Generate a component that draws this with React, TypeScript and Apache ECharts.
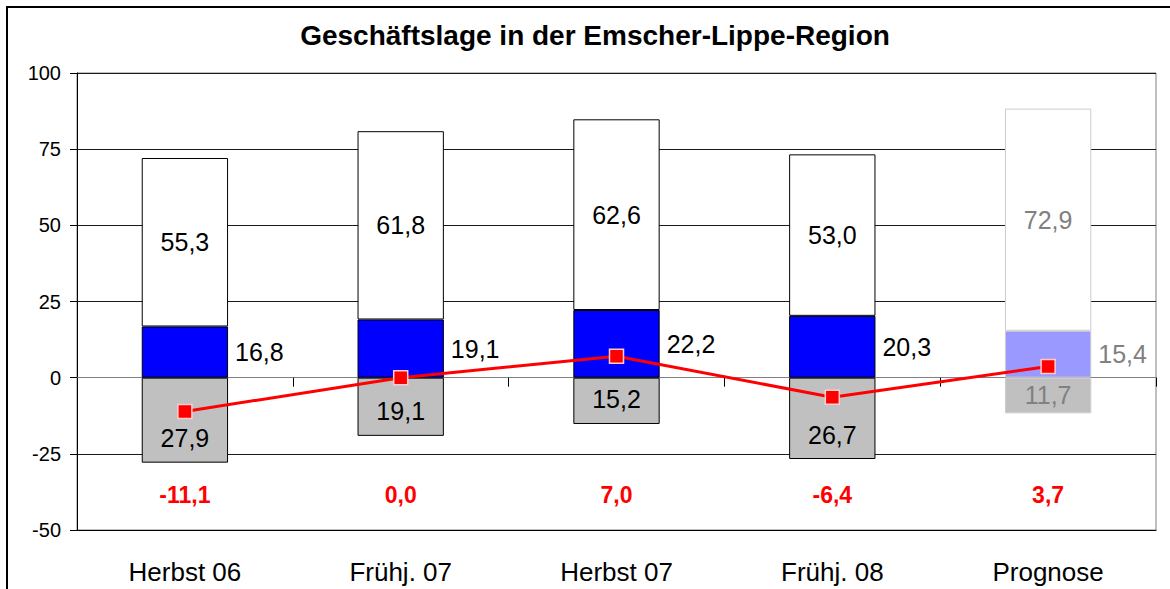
import React, { useEffect, useRef } from "react";
import * as echarts from "echarts";

const categories = ["Herbst 06", "Frühj. 07", "Herbst 07", "Frühj. 08", "Prognose"];
const schlecht = [27.9, 19.1, 15.2, 26.7, 11.7];
const gut = [16.8, 19.1, 22.2, 20.3, 15.4];
const befriedigend = [55.3, 61.8, 62.6, 53.0, 72.9];
const saldo = [-11.1, 0.0, 7.0, -6.4, 3.7];
const yTicks = { min: -50, max: 100, interval: 25 };
const title = "Geschäftslage in der Emscher-Lippe-Region";

const FONT = "Liberation Sans, Arial, sans-serif";
const fmt = (v: number) => Math.abs(v).toFixed(1).replace(".", ",");
const fmtSigned = (v: number) => v.toFixed(1).replace(".", ",");
const PROG = 4;

export default function App() {
  const ref = useRef<HTMLDivElement>(null);
  useEffect(() => {
    if (!ref.current) return;
    const chart = echarts.init(ref.current, undefined, { renderer: "svg" });

    const barItems = (vals: number[], sign: number, fill: string, progFill: string) =>
      vals.map((v, i) =>
        i === PROG
          ? {
              value: sign * v,
              itemStyle: { color: progFill, borderColor: "#cccccc", borderWidth: 1 },
              label: { color: "#808080" },
            }
          : { value: sign * v, itemStyle: { color: fill, borderColor: "#000", borderWidth: 1 } }
      );

    const grayData = barItems(schlecht, -1, "#c0c0c0", "#c0c0c0").map((d, i) =>
      i === PROG ? { ...d, label: { color: "#808080", position: "inside" } } : d
    );

    const catAxisBase = {
      type: "category" as const,
      data: categories,
      boundaryGap: true,
    };

    chart.setOption({
      animation: false,
      backgroundColor: "#fff",
      textStyle: { fontFamily: FONT },
      grid: {
        left: 77,
        top: 73,
        right: 14,
        bottom: 59,
        show: true,
        borderColor: "#808080",
        borderWidth: 1,
      },
      graphic: [
        {
          type: "rect",
          shape: { x: 7, y: 7, width: 1200, height: 620 },
          style: { fill: "none", stroke: "#000", lineWidth: 2 },
          silent: true,
        },
        {
          type: "text",
          x: 595,
          y: 35,
          style: {
            text: title,
            textAlign: "center",
            textVerticalAlign: "middle",
            font: `bold 28px ${FONT}`,
            fill: "#000",
          },
        },
      ],
      xAxis: [
        {
          ...catAxisBase,
          position: "bottom",
          axisLine: { onZero: false, lineStyle: { color: "#000", width: 1 } },
          axisTick: { show: false },
          axisLabel: { color: "#000", fontSize: 26, margin: 29, fontFamily: FONT },
          splitLine: { show: false },
        },
        {
          ...catAxisBase,
          position: "top",
          axisLine: { onZero: true, onZeroAxisIndex: 0, lineStyle: { color: "#808080", width: 1 } },
          axisTick: { show: true, inside: true, length: 9, lineStyle: { color: "#000" } },
          axisLabel: { show: false },
          splitLine: { show: false },
        },
        {
          ...catAxisBase,
          position: "bottom",
          axisLine: { show: false, onZero: false },
          axisTick: { show: false },
          axisLabel: {
            inside: true,
            margin: 24,
            color: "#ff0000",
            fontWeight: "bold",
            fontSize: 23,
            fontFamily: FONT,
            formatter: (_v: string, idx: number) => fmtSigned(saldo[idx]),
          },
          splitLine: { show: false },
        },
      ],
      yAxis: {
        type: "value",
        min: yTicks.min,
        max: yTicks.max,
        interval: yTicks.interval,
        axisLine: { show: true, lineStyle: { color: "#000" } },
        axisTick: { show: true, length: 7, lineStyle: { color: "#000" } },
        axisLabel: { color: "#000", fontSize: 20, margin: 16, fontFamily: FONT },
        splitLine: { show: true, lineStyle: { color: "#1a1a1a", width: 1 } },
      },
      series: [
        {
          name: "schlecht",
          type: "bar",
          stack: "a",
          barWidth: "40%",
          xAxisIndex: 0,
          data: grayData,
          label: {
            show: true,
            position: "insideBottom",
            distance: 12,
            fontSize: 25,
            color: "#000",
            fontFamily: FONT,
            formatter: (p: any) => fmt(p.value),
          },
        },
        {
          name: "gut",
          type: "bar",
          stack: "a",
          barWidth: "40%",
          xAxisIndex: 0,
          data: barItems(gut, 1, "#0000ff", "#9999ff"),
          label: {
            show: true,
            position: "right",
            distance: 7,
            fontSize: 25,
            color: "#000",
            fontFamily: FONT,
            formatter: (p: any) => fmt(p.value),
          },
        },
        {
          name: "befriedigend",
          type: "bar",
          stack: "a",
          barWidth: "40%",
          xAxisIndex: 0,
          data: barItems(befriedigend, 1, "#ffffff", "#ffffff"),
          label: {
            show: true,
            position: "inside",
            fontSize: 25,
            color: "#000",
            fontFamily: FONT,
            formatter: (p: any) => fmt(p.value),
          },
        },
        {
          name: "Saldo",
          type: "line",
          xAxisIndex: 0,
          z: 5,
          data: saldo,
          symbol: "rect",
          symbolSize: 14,
          lineStyle: { color: "#ff0000", width: 3 },
          itemStyle: { color: "#ff0000", borderColor: "#ffcccc", borderWidth: 1.5 },
          label: { show: false },
        },
      ],
    });
    return () => chart.dispose();
  }, []);

  return (
    <div
      ref={ref}
      style={{ position: "absolute", left: 0, top: 0, width: 1170, height: 589 }}
    />
  );
}
